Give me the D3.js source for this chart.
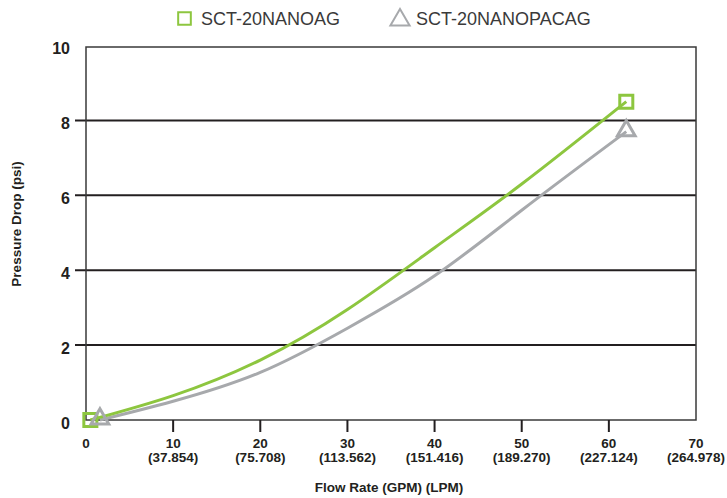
<!DOCTYPE html>
<meta charset="utf-8">
<style>
body { margin: 0; background: #fff; }
svg { font-family: "Liberation Sans", Arial, sans-serif; }
.tick-y { font-size: 16px; font-weight: bold; fill: #231f20; }
.tick-x { font-size: 13.5px; font-weight: bold; fill: #231f20; }
.title { font-size: 13.5px; font-weight: bold; fill: #231f20; }
.legend { font-size: 18px; fill: #3a3a3a; }
</style>
<svg width="727" height="498"></svg>
<script src="https://cdn.jsdelivr.net/npm/d3@7/dist/d3.min.js"></script>
<script>
var svg = d3.select("svg");

// data
var seriesNames = ["SCT-20NANOAG", "SCT-20NANOPACAG"];
var colors = ["#8dc63f", "#a7a9ac"];
var gpmTicks = [0, 10, 20, 30, 40, 50, 60, 70];
var lpmLabels = ["", "(37.854)", "(75.708)", "(113.562)", "(151.416)", "(189.270)", "(227.124)", "(264.978)"];
var yTicks = [0, 2, 4, 6, 8, 10];
var greenFlow = [0.5, 10, 20, 30, 40, 50, 62];
var greenDrop = [0, 0.65, 1.6, 2.95, 4.6, 6.3, 8.5];
var grayFlow = [1.6, 10, 20, 30, 40, 50, 62];
var grayDrop = [0, 0.5, 1.27, 2.45, 3.85, 5.6, 7.7];

var x = d3.scaleLinear().domain([0, 70]).range([86, 696]);
var y = d3.scaleLinear().domain([0, 10]).range([420, 45.5]);

// gridlines (with tick stubs on the left)
svg.selectAll(".grid").data(yTicks.filter(function(d){ return d > 0 && d < 10; }))
  .enter().append("line")
    .attr("x1", 75).attr("x2", x(70))
    .attr("y1", function(d){ return y(d); }).attr("y2", function(d){ return y(d); })
    .attr("stroke", "#231f20").attr("stroke-width", 2);

// frame
svg.append("rect")
  .attr("x", x(0)).attr("y", y(10) + 1.5)
  .attr("width", x(70) - x(0)).attr("height", y(0) - y(10) - 1.5)
  .attr("fill", "none").attr("stroke", "#3a3a3a").attr("stroke-width", 1.5);

// x ticks
svg.selectAll(".xt").data(gpmTicks.filter(function(d){ return d > 0 && d < 70; }))
  .enter().append("line")
    .attr("x1", function(d){ return x(d); }).attr("x2", function(d){ return x(d); })
    .attr("y1", y(0)).attr("y2", y(0) + 12)
    .attr("stroke", "#231f20").attr("stroke-width", 2);

var xl = svg.selectAll(".xl").data(gpmTicks).enter().append("g");
xl.append("text").attr("class", "tick-x")
  .attr("x", function(d){ return x(d); }).attr("y", 447.5)
  .attr("text-anchor", "middle").text(function(d){ return d; });
xl.append("text").attr("class", "tick-x")
  .attr("x", function(d){ return x(d); }).attr("y", 462)
  .attr("text-anchor", "middle").text(function(d, i){ return lpmLabels[i]; });

// y labels
svg.selectAll(".yl").data(yTicks).enter().append("text")
  .attr("class", "tick-y")
  .attr("x", 70).attr("y", function(d){ return y(d) + 3; })
  .attr("dy", "0.35em").attr("text-anchor", "end")
  .text(function(d){ return d; });

// axis titles
svg.append("text").attr("class", "title")
  .attr("x", 389).attr("y", 492).attr("text-anchor", "middle")
  .text("Flow Rate (GPM) (LPM)");
svg.append("text").attr("class", "title")
  .attr("transform", "translate(21,224) rotate(-90)")
  .attr("text-anchor", "middle")
  .text("Pressure Drop (psi)");

// lines
var line = d3.line().curve(d3.curveNatural)
  .x(function(d){ return x(d[0]); }).y(function(d){ return y(d[1]); });
var green = d3.zip(greenFlow, greenDrop);
var gray = d3.zip(grayFlow, grayDrop);

svg.append("path").datum(gray).attr("d", line)
  .attr("fill", "none").attr("stroke", colors[1]).attr("stroke-width", 3);
svg.append("path").datum(green).attr("d", line)
  .attr("fill", "none").attr("stroke", colors[0]).attr("stroke-width", 3);

// end markers
var sq = d3.symbol().type(d3.symbolSquare).size(170);
var tri = d3.symbol().type(d3.symbolTriangle).size(135);
[green[0], green[green.length - 1]].forEach(function(p){
  svg.append("path").attr("d", sq)
    .attr("transform", "translate(" + x(p[0]) + "," + y(p[1]) + ")")
    .attr("fill", "none").attr("stroke", colors[0]).attr("stroke-width", 3);
});
[gray[0], gray[gray.length - 1]].forEach(function(p){
  svg.append("path").attr("d", tri)
    .attr("transform", "translate(" + x(p[0]) + "," + (y(p[1]) - 1) + ")")
    .attr("fill", "none").attr("stroke", colors[1]).attr("stroke-width", 3);
});

// legend
svg.append("path").attr("d", d3.symbol().type(d3.symbolSquare).size(160))
  .attr("transform", "translate(184.5,18.5)")
  .attr("fill", "none").attr("stroke", colors[0]).attr("stroke-width", 2);
svg.append("text").attr("class", "legend").attr("x", 201).attr("y", 25).text(seriesNames[0]);
svg.append("path").attr("d", d3.symbol().type(d3.symbolTriangle).size(160))
  .attr("transform", "translate(400,20)")
  .attr("fill", "none").attr("stroke", colors[1]).attr("stroke-width", 2);
svg.append("text").attr("class", "legend").attr("x", 416).attr("y", 25).text(seriesNames[1]);
</script>
